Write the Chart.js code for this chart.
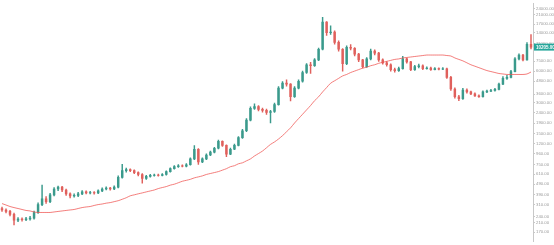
<!DOCTYPE html>
<html>
<head>
<meta charset="utf-8">
<script src="https://cdn.jsdelivr.net/npm/chart.js@4"></script>
<style>
  html, body { margin: 0; padding: 0; background: #fff; }
  #wrap { width: 554px; height: 245px; }
</style>
</head>
<body>
<div id="wrap"><canvas id="myChart"></canvas></div>
<script>
// candle data (log price axis)
const firstOpen = 285;
const closes = [277,268,251,221,226,224,227,231,262,312,
  355,333,387,441,460,431,396,379,382,396,
  413,404,408,404,422,441,450,441,460,570,
  662,677,662,634,608,558,582,595,600,595,
  608,648,691,722,738,730,754,858,1063,804,
  858,935,997,1086,1263,1159,955,1063,1159,1376,
  1599,2027,2623,2739,2567,2513,2407,2450,2859,4120,
  4587,4500,3395,4120,4789,5811,6902,6755,7686,9737,
  17776,14032,14200,11318,9737,7052,10164,9948,8744,7686,
  6611,7853,9327,8934,7686,7206,6902,6199,6067,6333,
  7853,7362,6199,6611,6755,6333,6400,6199,6333,6250,
  6300,5219,4032,3395,3252,3947,3780,3621,3468,3395,
  3780,3850,3900,4000,4490,5108,5219,5938,7853,8558,
  7700,10841,10205];
const highs = [296,284,274,258,234,233,235,240,270,325,
  480,372,400,455,470,468,440,405,395,410,
  425,422,418,416,432,452,462,458,472,590,
  760,700,690,675,645,620,598,610,612,612,
  620,660,705,740,755,752,775,880,1150,1080,
  880,960,1020,1110,1300,1280,1175,1090,1190,1410,
  1650,2090,2720,2900,2800,2640,2580,2520,2950,4250,
  4750,4950,4560,4250,4950,6000,7100,7300,7900,10000,
  19700,18000,16300,14600,11700,9900,10500,10800,10100,8900,
  7800,8100,9750,9600,9100,7850,7400,7050,6400,6550,
  8300,8000,7450,6800,7000,6900,6600,6550,6500,6450,
  6500,6420,5350,4150,3500,4100,4050,3850,3700,3550,
  3880,3950,4000,4100,4600,5300,5450,6100,8100,8800,
  8700,11300,13500];
const lows = [268,259,243,199,214,216,218,221,226,256,
  305,320,325,378,425,415,382,362,368,372,
  388,395,396,394,398,415,432,430,435,452,
  560,640,645,620,590,501,545,572,585,584,
  588,600,640,682,712,718,720,745,845,760,
  790,845,920,980,1070,1130,900,940,1050,1145,
  1350,1570,1990,2560,2480,2420,2300,1900,2400,2820,
  4050,4300,3100,3350,4050,4700,5700,5700,6650,7550,
  9600,13200,13500,10900,9300,6000,6900,9600,8400,7400,
  6450,6500,7700,8600,7450,7000,6700,6000,5850,5950,
  6250,7150,6050,6100,6450,6200,6250,6100,6150,6150,
  6180,5100,3900,3300,3115,3200,3680,3550,3420,3350,
  3360,3720,3800,3850,3950,4450,5000,5150,5900,7700,
  7500,7650,9800];
// moving average line
const movingAvg = [319,309,299,292,286,280,274,271,265,262,
  262,262,262,265,268,271,274,277,280,286,
  292,296,299,306,312,316,322,326,333,340,
  351,363,379,387,396,404,413,422,431,445,
  455,465,480,490,506,523,534,546,564,576,
  589,608,621,634,648,669,691,722,738,770,
  787,822,858,915,966,1021,1098,1183,1249,1333,
  1436,1565,1706,1900,2093,2306,2540,2798,3115,3395,
  3780,4164,4587,4841,5108,5390,5567,5811,6002,6199,
  6402,6540,6755,6902,7128,7284,7441,7604,7769,7853,
  8024,8110,8197,8287,8376,8466,8558,8558,8558,8558,
  8558,8466,8376,8024,7769,7522,7206,6902,6683,6471,
  6265,6067,5938,5811,5688,5627,5567,5567,5567,5567,
  5567,5627,5875];
const tickValues = [24000,21000,17000,14000,11000,7500,6000,4800,3600,3000,2400,
  1900,1500,1200,960,750,610,490,390,310,240,210,170];

const opens = closes.map((c, i) => i === 0 ? firstOpen : closes[i - 1]);
const labels = closes.map((c, i) => String(i));
const upColor = '#3a9a8c';
const downColor = '#e0605c';
const candleColors = closes.map((c, i) => c >= opens[i] ? upColor : downColor);

const lastTag = {
  id: 'lastTag',
  afterDraw(chart) {
    const scale = chart.scales.y;
    const last = closes[closes.length - 1];
    const py = scale.getPixelForValue(last);
    const ctx = chart.ctx;
    ctx.save();
    ctx.fillStyle = '#26a69a';
    ctx.fillRect(scale.left + 1, py - 3.5, scale.width - 1, 7);
    ctx.fillStyle = '#fff';
    ctx.font = 'bold 4.5px "Liberation Sans", Arial, sans-serif';
    ctx.textBaseline = 'middle';
    ctx.fillText(last.toFixed(2), scale.left + 3, py + 0.3);
    ctx.restore();
  }
};

const ctx = document.getElementById('myChart').getContext('2d');
const myChart = new Chart(ctx, {
  type: 'bar',
  data: {
    labels: labels,
    datasets: [
      {
        type: 'line',
        data: movingAvg,
        borderColor: 'rgba(239,83,80,0.75)',
        borderWidth: 1,
        pointRadius: 0,
        tension: 0.3,
        order: 0
      },
      {
        data: closes.map((c, i) => [opens[i], c]),
        backgroundColor: candleColors,
        barThickness: 1.8,
        grouped: false,
        order: 1
      },
      {
        data: lows.map((l, i) => [l, highs[i]]),
        backgroundColor: candleColors,
        barThickness: 0.8,
        grouped: false,
        order: 2
      }
    ]
  },
  options: {
    responsive: true,
    maintainAspectRatio: false,
    animation: false,
    layout: { padding: 0 },
    plugins: {
      legend: { display: false },
      tooltip: { enabled: false }
    },
    scales: {
      x: { display: false, offset: true },
      y: {
        type: 'logarithmic',
        position: 'right',
        min: 138,
        max: 26750,
        afterBuildTicks: (scale) => { scale.ticks = tickValues.map(v => ({ value: v })); },
        afterFit: (scale) => { scale.width = 21; },
        grid: { drawOnChartArea: false, drawTicks: true, tickLength: 2, color: '#c8c8c8' },
        border: { display: true, color: '#c8c8c8', width: 1 },
        ticks: {
          autoSkip: false,
          padding: 1,
          color: '#9a9a9a',
          font: { size: 4.3, family: '"Liberation Sans", Arial, sans-serif' },
          callback: (value) => Number(value).toFixed(2)
        }
      }
    }
  },
  plugins: [lastTag]
});
</script>
</body>
</html>
